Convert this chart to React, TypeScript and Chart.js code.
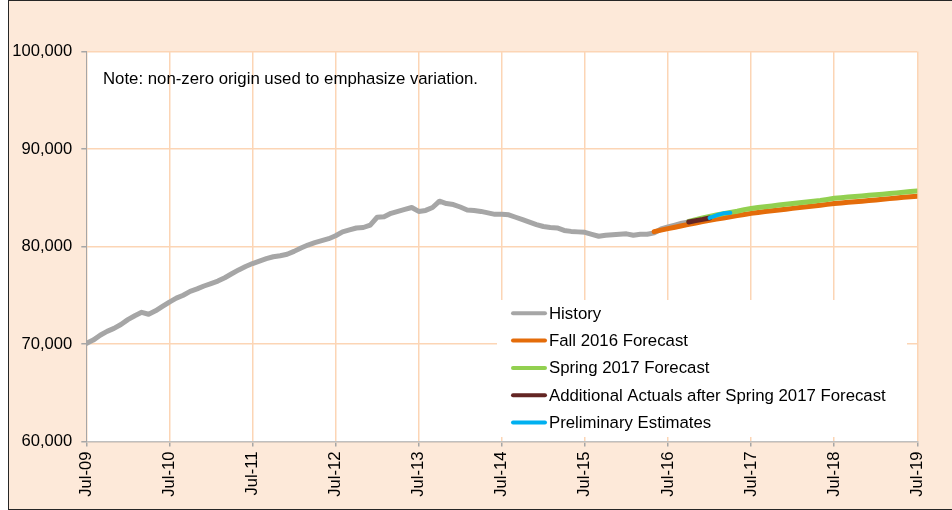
import React, { useEffect, useRef } from "react";
import { Chart, registerables } from "chart.js";

Chart.register(...registerables);

const xTickLabels = ["Jul-09", "Jul-10", "Jul-11", "Jul-12", "Jul-13", "Jul-14", "Jul-15", "Jul-16", "Jul-17", "Jul-18", "Jul-19"];
const yMin = 60000;
const yMax = 100000;
const yStep = 10000;

// Monthly values; month index 0 = Jul-09
const historyStart = 0;
const historyValues = [
  70050, 70400, 70900, 71300, 71600, 72000, 72500, 72900, 73250, 73050, 73400, 73850,
  74300, 74700, 75000, 75400, 75650, 75950, 76200, 76450, 76800, 77200, 77600, 77950,
  78250, 78500, 78750, 78950, 79050, 79200, 79500, 79850, 80150, 80400, 80600, 80800,
  81100, 81500, 81700, 81900, 81950, 82200, 83000, 83050, 83400, 83600, 83800, 84000,
  83600, 83700, 84000, 84650, 84400, 84300, 84050, 83750, 83700, 83600, 83450, 83300,
  83300, 83250, 83000, 82750, 82500, 82250, 82050, 81950, 81900, 81650, 81550, 81500,
  81450, 81250, 81050, 81150, 81200, 81250, 81300, 81150, 81250, 81250, 81400, 81800,
  82000, 82200, 82400, 82520,
];

const fallStart = 82;
const fallValues = [
  81520, 81680, 81830, 81980, 82130, 82270, 82410, 82550, 82680, 82810, 82930, 83050,
  83170, 83290, 83400, 83490, 83580, 83670, 83750, 83830, 83910, 83990, 84070, 84160,
  84240, 84320, 84400, 84470, 84530, 84590, 84650, 84710, 84780, 84840, 84910, 84970,
  85040, 85100, 85160,
];

const springStart = 87;
const springValues = [
  82580, 82750, 82920, 83080, 83230, 83370, 83500, 83620, 83780, 83900, 83990, 84080,
  84160, 84250, 84330, 84400, 84480, 84560, 84650, 84730, 84830, 84940, 85010, 85070,
  85130, 85190, 85250, 85310, 85370, 85440, 85500, 85570, 85630, 85700,
];

const additionalStart = 87;
const additionalValues = [82520, 82650, 82780, 82930];

const prelimStart = 90;
const prelimValues = [82930, 83200, 83400, 83450];

const seriesNames = [
  "History",
  "Fall 2016 Forecast",
  "Spring 2017 Forecast",
  "Additional Actuals after Spring 2017 Forecast",
  "Preliminary Estimates",
];
const seriesColors = ["#A6A6A6", "#E46C0A", "#92D050", "#632523", "#00B0F0"];
const seriesWidths = [5, 5, 5, 5, 4];

const noteText = "Note: non-zero origin used to emphasize variation.";

const FONT = "'Liberation Sans', Arial, sans-serif";

function toPoints(start: number, values: number[]) {
  return values.map((v, i) => ({ x: start + i, y: v }));
}

export default function App() {
  const canvasRef = useRef<HTMLCanvasElement | null>(null);

  useEffect(() => {
    const canvas = canvasRef.current;
    if (!canvas) return;

    const starts = [historyStart, fallStart, springStart, additionalStart, prelimStart];
    const vals = [historyValues, fallValues, springValues, additionalValues, prelimValues];

    const datasets = seriesNames.map((name, i) => ({
      label: name,
      data: toPoints(starts[i], vals[i]),
      borderColor: seriesColors[i],
      backgroundColor: seriesColors[i],
      borderWidth: seriesWidths[i],
      pointRadius: 0,
      tension: 0,
      borderCapStyle: "round" as const,
      borderJoinStyle: "round" as const,
      order: 5 - i,
      fill: false,
    }));

    const plotBg = {
      id: "plotBg",
      beforeDraw(chart: any) {
        const { ctx, chartArea } = chart;
        ctx.save();
        ctx.fillStyle = "#FFFFFF";
        ctx.fillRect(chartArea.left, chartArea.top, chartArea.right - chartArea.left, chartArea.bottom - chartArea.top);
        ctx.restore();
      },
      beforeDatasetsDraw(chart: any) {
        const { ctx } = chart;
        ctx.save();
        // legend box
        ctx.fillStyle = "#FFFFFF";
        ctx.fillRect(497, 300, 410, 137);
        ctx.font = `16.8px ${FONT}`;
        ctx.textBaseline = "alphabetic";
        ctx.textAlign = "left";
        seriesNames.forEach((name, i) => {
          const base = 318.8 + i * 27.3;
          ctx.strokeStyle = seriesColors[i];
          ctx.lineWidth = 4;
          ctx.lineCap = "round";
          ctx.beginPath();
          ctx.moveTo(513, base - 5.5);
          ctx.lineTo(545, base - 5.5);
          ctx.stroke();
          ctx.fillStyle = "#000000";
          ctx.fillText(name, 549, base);
        });
        // note
        ctx.fillStyle = "#000000";
        ctx.fillText(noteText, 103, 84);
        ctx.restore();
      },
    };

    const chart = new Chart(canvas, {
      type: "line",
      data: { datasets },
      options: {
        animation: false,
        responsive: false,
        devicePixelRatio: 1,
        layout: { padding: { left: 0, top: 51.5, right: 34.7, bottom: 0 } },
        plugins: { legend: { display: false }, tooltip: { enabled: false } },
        scales: {
          x: {
            type: "linear",
            min: 0,
            max: 120,
            afterFit(scale: any) {
              scale.height = 68.5;
            },
            ticks: {
              stepSize: 12,
              autoSkip: false,
              minRotation: 90,
              maxRotation: 90,
              padding: 5,
              color: "#000000",
              font: { family: FONT, size: 16.6 },
              callback: (v: any) => {
                const idx = Math.round(Number(v) / 12);
                return xTickLabels[idx];
              },
            },
            grid: {
              color: "#FCD5B5",
              lineWidth: 1.5,
              tickColor: "#A6A6A6",
              tickLength: 5,
            },
            border: { display: true, color: "#BFBFBF", width: 1.5 },
          },
          y: {
            type: "linear",
            min: yMin,
            max: yMax,
            afterFit(scale: any) {
              scale.width = 86.3;
            },
            ticks: {
              stepSize: yStep,
              padding: 9,
              color: "#000000",
              font: { family: FONT, size: 16.6 },
              callback: (v: any) => Number(v).toLocaleString("en-US"),
            },
            grid: {
              color: "#FCD5B5",
              lineWidth: 1.5,
              tickColor: "#A6A6A6",
              tickLength: 5,
            },
            border: { display: true, color: "#A6A6A6", width: 1 },
          },
        },
      },
      plugins: [plotBg],
    });

    return () => chart.destroy();
  }, []);

  return (
    <div style={{ position: "fixed", left: 0, top: 0, width: 952, height: 510, overflow: "hidden", background: "#FFFFFF" }}>
      <div
        style={{
          position: "absolute",
          left: 8,
          top: 0,
          width: 1000,
          height: 509.5,
          boxSizing: "border-box",
          border: "1.5px solid #262626",
          background: "#FDE9D9",
        }}
      />
      <canvas ref={canvasRef} width={952} height={510} style={{ position: "absolute", left: 0, top: 0, width: 952, height: 510 }} />
    </div>
  );
}
